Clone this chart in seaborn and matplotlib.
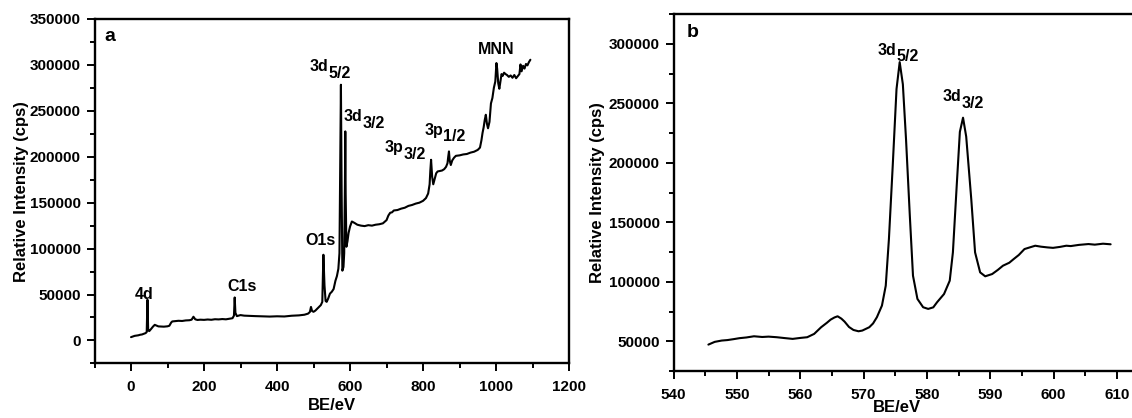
import matplotlib
matplotlib.use("Agg")
import matplotlib.pyplot as plt
import matplotlib.transforms as mtransforms
from matplotlib.ticker import MultipleLocator, FormatStrFormatter
import pandas as pd
import seaborn as sns

# ---- survey spectrum (panel a) ----
be_survey = [
    0, 5, 10, 15, 20, 25, 30, 35, 40, 43,
    45, 47, 50, 55, 60, 65, 70, 75, 80, 90,
    100, 105, 110, 113, 120, 130, 140, 150, 160, 166,
    171, 176, 182, 190, 200, 210, 220, 230, 240, 250,
    260, 270, 278, 282, 284, 286, 290, 300, 310, 320,
    340, 360, 380, 400, 420, 440, 460, 475, 485, 490,
    493, 496, 500, 505, 510, 515, 520, 524, 527, 530,
    533, 536, 540, 545, 550, 555, 560, 564, 568, 571,
    573, 575, 577, 579, 582, 584, 586, 587, 588, 590,
    593, 596, 600, 605, 612, 620, 630, 640, 650, 660,
    670, 680, 690, 700, 705, 710, 715, 720, 730, 740,
    750, 760, 770, 780, 790, 800, 808, 814, 818, 820,
    822, 825, 828, 832, 836, 840, 846, 852, 858, 863,
    867, 869, 871, 873, 876, 880, 885, 890, 900, 910,
    920, 930, 940, 950, 956, 960, 963, 966, 969, 972,
    975, 978, 982, 986, 990, 994, 998, 1001, 1003, 1006,
    1009, 1012, 1015, 1018, 1022, 1026, 1030, 1035, 1040, 1045,
    1050, 1055, 1060, 1064, 1067, 1070, 1074, 1078, 1082, 1086,
    1090, 1094,
]
cps_survey = [
    3600, 4300, 5000, 5300, 5600, 6200, 6500, 7300, 8000, 9200,
    44300, 11000, 10200, 12500, 15000, 17000, 16200, 15300, 15200, 15000,
    15400, 16000, 19500, 20700, 21000, 21400, 21200, 21800, 22000, 22600,
    25800, 23000, 22300, 22600, 22400, 22800, 22500, 23100, 22900, 23300,
    23000, 23600, 24200, 27000, 46800, 30000, 26500, 27600, 27000, 26800,
    26500, 26200, 26000, 26300, 26100, 26900, 27300, 28000, 29200, 31000,
    36500, 32000, 31200, 32500, 34500, 36500, 38500, 42000, 93300, 60000,
    43000, 42000, 45500, 51000, 53000, 56000, 65000, 70000, 78000, 95000,
    190000, 278400, 160000, 76000, 80000, 95000, 170000, 227600, 160000, 102000,
    108000, 117000, 124000, 129500, 128000, 126000, 125000, 124500, 125500, 125000,
    126000, 126500, 127500, 131000, 136000, 139000, 139500, 141500, 142000, 143500,
    144500, 146500, 147500, 149000, 150000, 152000, 155000, 160000, 170000, 185000,
    196700, 178000, 170000, 176000, 182000, 184000, 184500, 185000, 186500, 189000,
    193000, 200000, 205800, 196000, 191000, 196000, 199000, 201000, 201500, 202500,
    203000, 204500, 205500, 207500, 210000, 218000, 226000, 232000, 240000, 245700,
    236000, 231000, 238000, 258000, 264000, 275000, 282000, 302000, 296000, 280000,
    274000, 282000, 290000, 288000, 291500, 290000, 289000, 287000, 288500, 286000,
    289000, 285500, 288000, 290000, 300500, 293000, 299000, 296000, 301000, 299500,
    303000, 305600,
]

# ---- high-resolution 3d region (panel b) ----
be_3d = [
    545.5, 546.5, 547.6, 548.5, 549.5, 550.4, 551.5, 552.7, 554.0, 555.0,
    556.3, 557.5, 558.8, 560.0, 561.1, 562.2, 563.3, 564.2, 564.8, 565.4,
    565.9, 566.5, 567.0, 567.7, 568.4, 569.2, 569.8, 570.9, 571.5, 572.1,
    572.9, 573.5, 574.0, 574.6, 575.2, 575.7, 576.2, 576.7, 577.3, 577.8,
    578.5, 579.4, 580.2, 581.0, 581.6, 582.7, 583.6, 584.1, 584.7, 585.2,
    585.7, 586.2, 587.0, 587.6, 588.4, 589.2, 590.3, 591.2, 592.0, 593.0,
    593.7, 594.5, 595.4, 596.3, 597.1, 598.0, 599.0, 599.9, 601.0, 602.0,
    602.7, 604.0, 605.5, 606.5, 607.8, 609.0,
]
cps_3d = [
    47200, 49500, 50600, 51000, 51800, 52600, 53200, 54200, 53600, 53900,
    53400, 52700, 52000, 52800, 53400, 56200, 61800, 65500, 68200, 70000,
    71000, 69000, 66500, 62000, 59500, 58400, 59000, 61800, 65000, 70200,
    80000, 96700, 135900, 197400, 262000, 284600, 266000, 219800, 155500, 105100,
    85600, 78600, 77200, 78500, 82800, 89700, 100900, 124700, 180600, 226000,
    237900, 222000, 169400, 124700, 107900, 104600, 106500, 110000, 113500, 116000,
    119100, 122500, 127500, 129000, 130300, 129500, 128900, 128500, 129300, 130300,
    130000, 131000, 131700, 131200, 132000, 131500,
]

# peak labels: (main text, subscript, x, baseline y)
survey_sub_labels = [
    ("3d", "5/2", 540, 292900),
    ("3d", "3/2", 634, 238500),
    ("3p", "3/2", 747, 204700),
    ("3p", "1/2", 856, 224000),
]
survey_plain_labels = [
    ("MNN", 1000, 311800),
    ("O1s", 519, 104200),
    ("C1s", 303, 53400),
    ("4d", 36, 45000),
]
detail_sub_labels = [
    ("3d", "5/2", 575.2, 291000),
    ("3d", "3/2", 585.5, 251900),
]

sns.set_theme(style="ticks")
plt.rcParams["font.family"] = ["Liberation Sans", "DejaVu Sans"]
plt.rcParams["font.weight"] = "bold"
plt.rcParams["axes.labelweight"] = "bold"
plt.rcParams["axes.edgecolor"] = "black"
plt.rcParams["text.color"] = "black"
plt.rcParams["axes.labelcolor"] = "black"
plt.rcParams["xtick.color"] = "black"
plt.rcParams["ytick.color"] = "black"

fig = plt.figure(figsize=(11.32, 4.18), dpi=100)
ax_a = fig.add_axes([0.0835, 0.1306, 0.4192, 0.824])
ax_b = fig.add_axes([0.595, 0.1124, 0.4197, 0.854])

df_a = pd.DataFrame({"BE": be_survey, "cps": cps_survey})
df_b = pd.DataFrame({"BE": be_3d, "cps": cps_3d})

sns.lineplot(data=df_a, x="BE", y="cps", ax=ax_a, color="black",
             linewidth=1.5, estimator=None, sort=False)
sns.lineplot(data=df_b, x="BE", y="cps", ax=ax_b, color="black",
             linewidth=1.5, estimator=None, sort=False)

ax_a.set_xlim(-100, 1200)
ax_a.set_ylim(-25000, 350000)
ax_a.xaxis.set_major_locator(MultipleLocator(200))
ax_a.xaxis.set_minor_locator(MultipleLocator(100))
ax_a.yaxis.set_major_locator(MultipleLocator(50000))
ax_a.yaxis.set_minor_locator(MultipleLocator(25000))

ax_b.set_xlim(540, 615)
ax_b.set_ylim(25000, 325000)
ax_b.xaxis.set_major_locator(MultipleLocator(10))
ax_b.xaxis.set_minor_locator(MultipleLocator(5))
ax_b.yaxis.set_major_locator(MultipleLocator(50000))
ax_b.yaxis.set_minor_locator(MultipleLocator(25000))

for ax in (ax_a, ax_b):
    ax.yaxis.set_major_formatter(FormatStrFormatter("%d"))
    ax.xaxis.set_major_formatter(FormatStrFormatter("%d"))
    for sp in ax.spines.values():
        sp.set_visible(True)
        sp.set_linewidth(1.7)
        sp.set_color("black")
    ax.tick_params(which="both", direction="out", top=False, right=False,
                   width=1.4, colors="black")
    ax.tick_params(which="major", length=6, labelsize=11, pad=4)
    ax.tick_params(which="minor", length=3.5)
    ax.tick_params(axis="x", which="major", pad=6)
    ax.set_ylabel("Relative Intensity (cps)", fontsize=12, fontweight="bold")
    ax.set_xlabel("BE/eV", fontsize=12, fontweight="bold")

ax_a.yaxis.set_label_coords(-0.138, 0.5)
ax_a.xaxis.set_label_coords(0.5, -0.1)
ax_b.yaxis.set_label_coords(-0.145, 0.5)
ax_b.xaxis.set_label_coords(0.47, -0.082)


def sub_label(ax, main, sub, x, y, size=11.5, drop=4.5):
    ax.text(x, y, main, ha="right", va="baseline", fontsize=size,
            fontweight="bold", color="black")
    trans = mtransforms.offset_copy(ax.transData, fig=fig, x=0, y=-drop,
                                    units="points")
    ax.text(x, y, sub, ha="left", va="baseline", fontsize=size,
            fontweight="bold", color="black", transform=trans)


for main, sub, x, y in survey_sub_labels:
    sub_label(ax_a, main, sub, x, y)
for txt, x, y in survey_plain_labels:
    ax_a.text(x, y, txt, ha="center", va="baseline", fontsize=11.5,
              fontweight="bold", color="black")
for main, sub, x, y in detail_sub_labels:
    sub_label(ax_b, main, sub, x, y, drop=5)

ax_a.text(0.02, 0.935, "a", transform=ax_a.transAxes, ha="left",
          va="baseline", fontsize=14, fontweight="bold")
ax_b.text(0.028, 0.935, "b", transform=ax_b.transAxes, ha="left",
          va="baseline", fontsize=14, fontweight="bold")

fig.savefig("out.png", dpi=100)
